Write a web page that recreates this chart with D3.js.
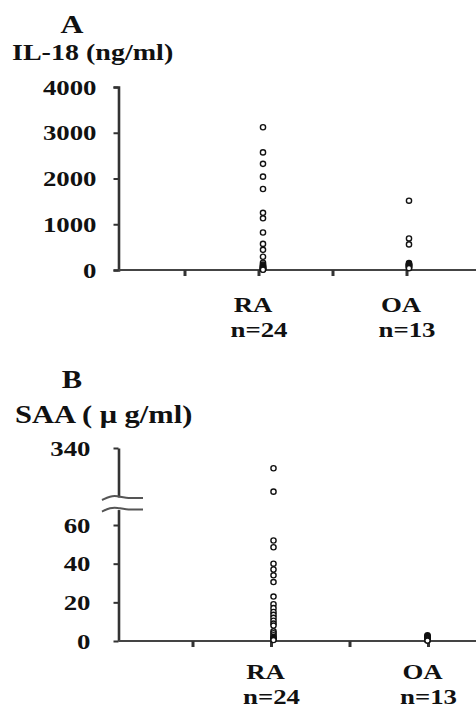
<!DOCTYPE html>
<html>
<head>
<meta charset="utf-8">
<script src="https://cdn.jsdelivr.net/npm/d3@7"></script>
<style>
  body { margin: 0; background: #fff; }
  text { font-family: "Liberation Serif", "Times New Roman", Times, serif; font-weight: bold; fill: #111; }
</style>
</head>
<body>
<script>
'use strict';

// groups on the x axis
var categories = ["RA", "OA"];
var groupSizes = ["n=24", "n=13"];

// panel A: IL-18 (ng/ml)
var il18RA = [3120, 2570, 2320, 2040, 1770, 1250, 1130, 820, 570, 440, 290, 160,
              120, 100, 80, 70, 60, 50, 40, 30, 25, 20, 10, 5];
var il18OA = [1515, 690, 560, 150, 130, 120, 110, 100, 90, 80, 60, 50, 40];
var il18Ticks = [0, 1000, 2000, 3000, 4000];

// panel B: SAA (ug/ml), axis broken above 60
var saaRA = [245, 135, 52, 48.5, 40, 37, 34, 30.5, 23, 19, 17, 15, 13.5, 12, 10.5, 9, 8,
             5, 4, 3, 2, 1.5, 1, 0.5];
var saaOA = [3, 2.5, 2, 2, 1.5, 1.5, 1, 1, 0.8, 0.5, 0.5, 0.3, 0.2];
var saaTicksLow = [0, 20, 40, 60];
var saaTicksHigh = [340];

var W = 476, H = 710;
var SX = 1.22; // the scan is a bit stretched sideways
var axisX = 118.5;

var svg = d3.select("body").append("svg")
    .attr("width", W)
    .attr("height", H);

function label(x, y, str, size, anchor) {
    svg.append("text")
        .attr("transform", "translate(" + x + "," + y + ") scale(" + SX + ",1)")
        .attr("text-anchor", anchor)
        .style("font-size", size + "px")
        .text(str);
}

function styleYAxis(g, offset) {
    g.select(".domain").attr("stroke", "#333").attr("stroke-width", 2.6);
    g.selectAll(".tick line").attr("stroke", "#333").attr("stroke-width", 2);
    g.selectAll(".tick text")
        .attr("x", -offset / SX)
        .attr("transform", "scale(" + SX + ",1)")
        .style("font-size", "22px")
        .attr("fill", "#111");
}

function drawXAxis(x, y0) {
    var ticks = [];
    x.domain().forEach(function (c) {
        ticks.push(x(c));
        ticks.push(x(c) + x.bandwidth() / 2);
    });
    svg.append("line")
        .attr("x1", axisX).attr("x2", W)
        .attr("y1", y0).attr("y2", y0)
        .attr("stroke", "#444")
        .attr("stroke-width", 2.2);
    svg.selectAll(null)
        .data(ticks)
        .enter().append("line")
        .attr("x1", function (d) { return d; })
        .attr("x2", function (d) { return d; })
        .attr("y1", y0)
        .attr("y2", y0 + 6)
        .attr("stroke", "#333")
        .attr("stroke-width", 3);
}

function drawDots(values, cx, yfn) {
    svg.append("g").selectAll("circle")
        .data(values)
        .enter().append("circle")
        .attr("cx", cx)
        .attr("cy", function (d) { return yfn(d); })
        .attr("r", 2.6)
        .attr("fill", "#fff")
        .attr("stroke", "#111")
        .attr("stroke-width", 1.4);
}

function drawGroupLabels(x, yTop, dx) {
    categories.forEach(function (c, i) {
        var cx = x(c) + x.bandwidth() / 2;
        label(cx - dx, yTop, c, 22, "middle");
        label(cx, yTop + 25, groupSizes[i], 22, "middle");
    });
}

// ---------- panel A ----------
var yA = d3.scaleLinear().domain([0, 4000]).range([270, 87]);
var xA = d3.scaleBand().domain(categories).range([185, 481]);

label(72, 33, "A", 26, "middle");
label(12, 60, "IL-18 (ng/ml)", 23, "start");

var gA = svg.append("g")
    .attr("transform", "translate(" + axisX + ",0)")
    .call(d3.axisLeft(yA).tickValues(il18Ticks).tickFormat(d3.format("d"))
        .tickSize(5).tickSizeOuter(5).tickPadding(0));
styleYAxis(gA, 22);

drawXAxis(xA, 270);
drawDots(il18RA, xA("RA") + xA.bandwidth() / 2 + 4, yA);
drawDots(il18OA, xA("OA") + xA.bandwidth() / 2 + 2, yA);
drawGroupLabels(xA, 312, 6);

// ---------- panel B ----------
var yLow = d3.scaleLinear().domain([0, 68]).range([641, 641 - 68 * 1.933]);
var yHigh = d3.scaleLinear().domain([110, 340]).range([497, 448]);
var ySAA = function (v) { return v > 100 ? yHigh(v) : yLow(v); };
var xB = d3.scaleBand().domain(categories).range([193, 507]);

label(72, 388, "B", 25, "middle");
label(15, 423, "SAA ( \u03bc g/ml)", 25, "start");

var gB1 = svg.append("g")
    .attr("transform", "translate(" + axisX + ",0)")
    .call(d3.axisLeft(yLow).tickValues(saaTicksLow).tickFormat(d3.format("d"))
        .tickSize(5).tickSizeOuter(0).tickPadding(0));
styleYAxis(gB1, 28);

var gB2 = svg.append("g")
    .attr("transform", "translate(" + axisX + ",0)")
    .call(d3.axisLeft(yHigh).tickValues(saaTicksHigh).tickFormat(d3.format("d"))
        .tickSize(5).tickSizeOuter(0).tickPadding(0));
styleYAxis(gB2, 28);

// axis break marks
var wave = d3.line().curve(d3.curveBasis);
[yHigh.range()[0], yLow.range()[1] - 1].forEach(function (yb) {
    svg.append("path")
        .attr("d", wave([[102, yb + 3], [110, yb - 1], [118, yb - 1], [124, yb + 1], [143, yb + 1]]))
        .attr("fill", "none")
        .attr("stroke", "#555")
        .attr("stroke-width", 2);
});

drawXAxis(xB, 641);
drawDots(saaRA, xB("RA") + xB.bandwidth() / 2 + 2, ySAA);
drawDots(saaOA, xB("OA") + xB.bandwidth() / 2 - 1, ySAA);
drawGroupLabels(xB, 679, 6);
</script>
</body>
</html>
